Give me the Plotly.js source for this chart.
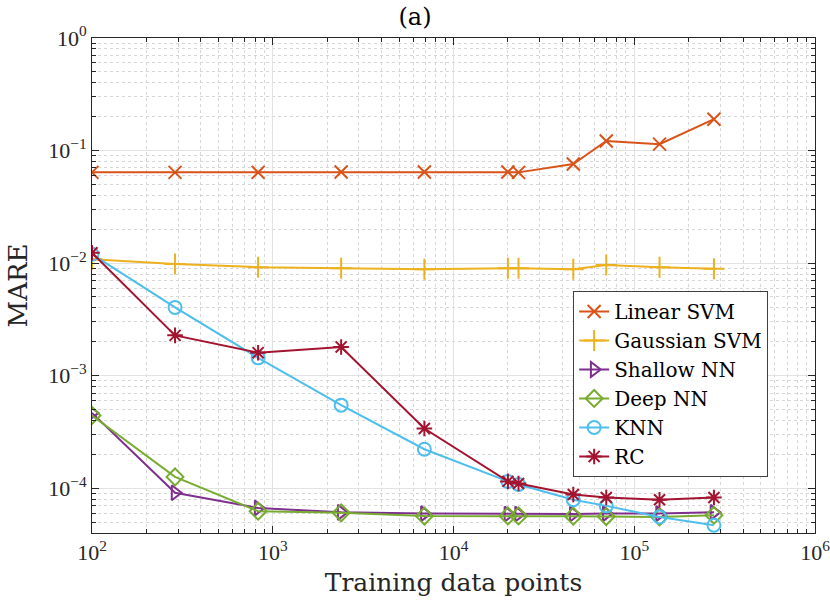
<!DOCTYPE html>
<html>
<head>
<meta charset="utf-8">
<script src="https://cdn.plot.ly/plotly-3.0.1.min.js"></script>
<style>html,body{margin:0;padding:0;background:#fff;}#chart{width:830px;height:604px;}</style>
</head>
<body>
<div id="chart"></div>
<script>
// Training data points (x)
var trainingPoints = [100, 288, 830, 2390, 6900, 20000, 22900, 46000, 70000, 138000, 276000];

// MARE values per method
var linearSVM   = [0.064, 0.064, 0.064, 0.0645, 0.0645, 0.0645, 0.064, 0.0759, 0.1215, 0.114, 0.19];
var gaussianSVM = [0.0108, 0.0098, 0.0092, 0.0090, 0.0088, 0.0090, 0.0090, 0.0088, 0.0096, 0.0092, 0.0089];
var shallowNN   = [0.000467, 0.000091, 0.0000668, 0.0000610, 0.0000595, 0.0000590, 0.0000590, 0.0000590, 0.0000595, 0.0000595, 0.0000610];
var deepNN      = [0.000443, 0.000126, 0.0000625, 0.0000605, 0.0000565, 0.0000567, 0.0000567, 0.0000564, 0.0000560, 0.0000555, 0.0000575];
var knn         = [0.0120, 0.00404, 0.00144, 0.000547, 0.000222, 0.000115, 0.000108, 0.0000790, 0.0000697, 0.0000556, 0.0000469];
var rc          = [0.01235, 0.00228, 0.00160, 0.00180, 0.000339, 0.000115, 0.000110, 0.0000880, 0.0000826, 0.0000790, 0.0000826];

// Tick labels
var xTickVals = [100, 1000, 10000, 100000, 999999];
var xTickText = ['10<sup>2</sup>', '10<sup>3</sup>', '10<sup>4</sup>', '10<sup>5</sup>', '10<sup>6</sup>'];
var yTickVals = [1e-4, 1e-3, 1e-2, 1e-1, 1];
var yTickText = ['10<sup>\u22124</sup>', '10<sup>\u22123</sup>', '10<sup>\u22122</sup>', '10<sup>\u22121</sup>', '10<sup>0</sup>'];

var seriesNames = ['Linear SVM', 'Gaussian SVM', 'Shallow NN', 'Deep NN', 'KNN', 'RC'];
var seriesData  = [linearSVM, gaussianSVM, shallowNN, deepNN, knn, rc];
var colors  = ['#D95319', '#EDB120', '#7E2F8E', '#77AC30', '#4DBEEE', '#A2142F'];
var symbols = ['x-thin-open', 'cross-thin-open', 'triangle-right-open', 'diamond-open', 'circle-open', 'asterisk-open'];
var sizes   = [13, 15, 13, 13, 13, 13];

// minor (2..9 per decade) tick positions
function minorTicks(lo, hi) {
  var out = [];
  for (var e = lo; e < hi; e++) {
    for (var m = 2; m <= 9; m++) out.push(m * Math.pow(10, e));
  }
  return out;
}

var TICKFONT = 'Liberation Serif';
var TEXTFONT = 'DejaVu Serif';

var traces = seriesNames.map(function (name, i) {
  return {
    x: trainingPoints,
    y: seriesData[i],
    name: name,
    type: 'scatter',
    mode: 'lines+markers',
    line: {color: colors[i], width: 2},
    marker: {symbol: symbols[i], size: sizes[i], color: colors[i], line: {color: colors[i], width: 2}}
  };
});

function axis(extra, minorVals) {
  return Object.assign({
    type: 'log',
    showline: true,
    linecolor: '#262626',
    linewidth: 1,
    mirror: 'ticks',
    ticks: 'inside',
    ticklen: 7,
    tickcolor: '#262626',
    showgrid: true,
    gridcolor: '#e2e2e2',
    gridwidth: 1,
    zeroline: false,
    tickmode: 'array',
    ticklabeloverflow: 'allow',
    tickfont: {family: TICKFONT, size: 22, color: '#262626'},
    minor: {
      tickmode: 'array',
      tickvals: minorVals,
      ticks: 'inside',
      ticklen: 4,
      tickcolor: '#262626',
      showgrid: true,
      gridcolor: '#d6d6d6',
      griddash: 'dot',
      gridwidth: 1
    }
  }, extra);
}

var layout = {
  width: 830,
  height: 604,
  margin: {l: 92, r: 15, t: 38, b: 71},
  paper_bgcolor: '#ffffff',
  plot_bgcolor: '#ffffff',
  font: {family: TEXTFONT, color: '#262626'},
  title: {text: '(a)', font: {family: TEXTFONT, size: 24, color: '#000'}, x: 0.5, xanchor: 'center', y: 0.972, yanchor: 'middle'},
  xaxis: axis({
    range: [2, 6],
    tickvals: xTickVals,
    ticktext: xTickText,
    title: {text: 'Training data points', font: {family: TEXTFONT, size: 25, color: '#262626'}, standoff: 9}
  }, minorTicks(2, 6)),
  yaxis: axis({
    range: [Math.log10(4e-5), 0],
    tickvals: yTickVals,
    ticktext: yTickText,
    title: {text: 'MARE', font: {family: TEXTFONT, size: 26, color: '#262626'}, standoff: 13}
  }, minorTicks(-5, 0).filter(function (v) { return v >= 4e-5; })),
  legend: {
    x: 0.6655, y: 0.489, xanchor: 'left', yanchor: 'top',
    bgcolor: '#ffffff',
    bordercolor: '#404040',
    borderwidth: 1,
    font: {family: TEXTFONT, size: 20, color: '#000'},
    itemwidth: 30,
    tracegroupgap: 0
  },
  showlegend: true
};

Plotly.newPlot('chart', traces, layout, {displayModeBar: false, staticPlot: true});
</script>
</body>
</html>
